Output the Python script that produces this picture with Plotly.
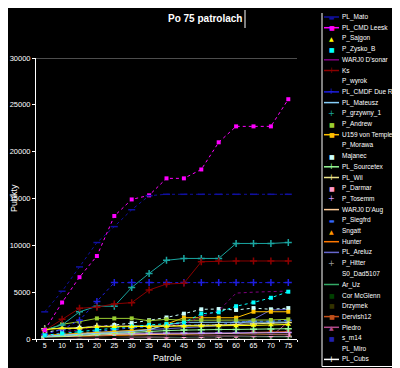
import plotly.graph_objects as go

W, H = 400, 368
OFF = 8  # page body margin of the browser shifts the figure by this many pixels

# ---------------- data ----------------
categories = ["5", "10", "15", "20", "25", "30", "35", "40", "45", "50", "55", "60", "65", "70", "75"]
y_ticks = [0, 5000, 10000, 15000, 20000, 25000, 30000]
y_tick_labels = ["0", "5000", "10000", "15000", "20000", "25000", "30000"]

title_text = "Po 75 patrolach"
x_title = "Patrole"
y_title = "Punkty"

pl_mato = [2900, 5100, 7700, 10300, 12000, 13800, 15300, 15450, 15450, 15450, 15450, 15450, 15450, 15450, 15450]
pl_cmd_leesk = [950, 3900, 6600, 8860, 13130, 14900, 15340, 17150, 17150, 18100, 21000, 22700, 22700, 22700, 25600]
p_sajgon = [1000, 1140, 1140, 1310, 1310, 1320, 1320, 1330, 1350, 1380, 1400, 1400, 1450, 1500, 1550]
p_zysko_b = [400, 600, 800, 1000, 1150, 1350, 1500, 1600, 1750, 2700, 2850, 3500, 3900, 4400, 5050]
warj0_dsonar = [300, 700, 1000, 1390, 1350, 1350, 1350, 1350, 1600, 2380, 3020, 4900, 5000, 5050, 5120]
ks = [900, 2100, 3280, 3400, 3750, 3880, 5230, 5870, 5950, 8250, 8330, 8330, 8330, 8330, 8330]
p_wyrok = [100, 150, 200, 260, 300, 310, 350, 400, 410, 450, 460, 500, 510, 550, 560]
pl_cmdf_due_r = [500, 1000, 2000, 4000, 6020, 6020, 6020, 6020, 6020, 6020, 6020, 6020, 6020, 6020, 6020]
pl_mateusz = [300, 400, 500, 650, 700, 800, 1000, 1500, 1780, 1780, 1780, 1780, 1780, 1780, 1800]
p_grzywny_1 = [1000, 1500, 2900, 3500, 3500, 5500, 7000, 8400, 8600, 8600, 8600, 10200, 10200, 10200, 10300]
p_andrew = [900, 1570, 1850, 2200, 2200, 2200, 1950, 2100, 2000, 2000, 2000, 2000, 2000, 2030, 2100]
u159_von_temple = [400, 500, 600, 700, 800, 900, 1000, 1600, 2270, 2270, 2270, 2270, 2910, 2910, 2910]
p_morawa = [50, 90, 120, 150, 180, 200, 230, 250, 270, 300, 320, 340, 360, 380, 400]
majanec = [700, 1000, 1200, 1300, 1500, 1700, 2000, 2300, 2700, 3170, 3200, 3100, 3300, 3170, 3300]
pl_sourcetex = [200, 310, 420, 480, 610, 700, 790, 900, 950, 1000, 1010, 1020, 1050, 1060, 1100]
pl_wil = [1100, 1150, 1200, 1350, 1390, 1390, 1390, 1400, 1420, 1450, 1500, 1550, 1600, 1700, 1750]
p_darmar = [50, 80, 100, 150, 200, 200, 250, 250, 300, 300, 350, 350, 400, 400, 450]
p_tosemm = [300, 450, 550, 600, 600, 600, 620, 620, 620, 620, 650, 650, 650, 650, 700]
warj0_daug = [150, 250, 300, 400, 500, 500, 500, 550, 550, 550, 550, 600, 600, 600, 650]
p_siegfrd = [200, 400, 600, 800, 1000, 1200, 1300, 1400, 1500, 1500, 1500, 1800, 1900, 1900, 2000]
sngatt = [100, 150, 200, 300, 350, 400, 400, 450, 450, 450, 500, 500, 500, 500, 500]
hunter = [150, 200, 250, 300, 400, 450, 450, 480, 480, 500, 500, 500, 500, 500, 500]
pl_areluz = [200, 300, 500, 700, 800, 900, 1000, 1100, 1200, 1300, 1400, 1500, 2100, 3100, 3150]
p_hitter = [100, 100, 150, 150, 200, 200, 200, 250, 250, 250, 250, 300, 300, 300, 300]
s0_dad5107 = [20, 40, 60, 80, 90, 100, 120, 130, 140, 150, 160, 170, 180, 190, 200]
ar_uz = [50, 100, 100, 120, 150, 150, 150, 150, 150, 150, 180, 180, 180, 180, 200]
cor_mcglenn = [50, 80, 100, 100, 120, 120, 150, 150, 150, 150, 150, 180, 180, 180, 200]
drzymek = [30, 50, 80, 80, 100, 100, 120, 120, 130, 130, 140, 140, 150, 150, 160]
dervish12 = [100, 200, 250, 300, 350, 400, 400, 420, 420, 430, 430, 450, 700, 750, 800]
piedro = [0, 0, 50, 50, 80, 100, 100, 100, 120, 120, 150, 150, 200, 250, 1850]
s_m14 = [100, 200, 300, 300, 400, 400, 500, 500, 500, 600, 600, 600, 700, 700, 700]
pl_miro = [10, 20, 30, 40, 50, 60, 70, 80, 90, 100, 110, 120, 130, 140, 150]
pl_cubs = [0, 20, 50, 50, 50, 80, 80, 100, 100, 100, 100, 120, 150, 200, 250]

# name, values, color, marker kind, chart line dash, legend shows line
series = [
    ("PL_Mato", pl_mato, "#1010A0", "dash", "dot", True),
    ("PL_CMD Leesk", pl_cmd_leesk, "#FF00FF", "sq", "dot", True),
    ("P_Sajgon", p_sajgon, "#FFFF00", "tri", "solid", False),
    ("P_Zysko_B", p_zysko_b, "#00FFFF", "sq", "dot", False),
    ("WARJ0 D'sonar", warj0_dsonar, "#800080", None, "dot", True),
    ("Ks", ks, "#8B0000", "cross", "solid", True),
    ("P_wyrok", p_wyrok, "#050505", None, "solid", False),
    ("PL_CMDF Due R", pl_cmdf_due_r, "#1E1EE0", "cross", "dot", True),
    ("PL_Mateusz", pl_mateusz, "#87CEFA", None, "solid", True),
    ("P_grzywny_1", p_grzywny_1, "#1AA5A0", "cross", "solid", False),
    ("P_Andrew", p_andrew, "#9ACD32", "sq", "solid", False),
    ("U159 von Temple", u159_von_temple, "#FFC000", "sq", "solid", True),
    ("P_Morawa", p_morawa, "#050505", None, "solid", False),
    ("Majanec", majanec, "#CCFFFF", "sq", "dot", False),
    ("PL_Sourcetex", pl_sourcetex, "#98FB98", "cross", "solid", True),
    ("PL_Wil", pl_wil, "#F0E68C", "cross", "solid", True),
    ("P_Darmar", p_darmar, "#FF99CC", "sq", "solid", False),
    ("P_Tosemm", p_tosemm, "#CC99FF", "cross", "solid", False),
    ("WARJ0 D'Aug", warj0_daug, "#FFCC99", None, "solid", True),
    ("P_Siegfrd", p_siegfrd, "#3366FF", "dash", "dot", False),
    ("Sngatt", sngatt, "#FF9900", "tri", "solid", False),
    ("Hunter", hunter, "#FF7700", None, "solid", True),
    ("PL_Areluz", pl_areluz, "#6666CC", None, "solid", True),
    ("P_Hitter", p_hitter, "#999999", "cross", "solid", False),
    ("S0_Dad5107", s0_dad5107, "#050505", None, "solid", False),
    ("Ar_Uz", ar_uz, "#33AA66", None, "solid", True),
    ("Cor McGlenn", cor_mcglenn, "#004000", "sq", "solid", False),
    ("Drzymek", drzymek, "#333300", "sq", "solid", False),
    ("Dervish12", dervish12, "#C0501A", "sq", "solid", True),
    ("Piedro", piedro, "#B04A8A", "tri", "solid", True),
    ("s_m14", s_m14, "#2020B0", "sq", "solid", False),
    ("PL_Miro", pl_miro, "#050505", None, "solid", False),
    ("PL_Cubs", pl_cubs, "#FFFFFF", "cross", "solid", True),
]

marker_styles = {
    "sq": dict(symbol="square", size=4),
    "tri": dict(symbol="triangle-up", size=5),
    "cross": dict(symbol="cross-thin", size=5),
    "dash": dict(symbol="line-ew", size=5),
}
legend_glyph = {"sq": "■", "tri": "▲", "cross": "+", "dash": "▬"}


def px(x):
    # screen pixel (as in the reference) -> paper fraction
    return (x - OFF) / W


def py(y):
    return 1 - (y - OFF) / H


fig = go.Figure()

# draw last legend entries first so the leaders sit on top
for name, vals, color, mk, dash, _ in reversed(series):
    kw = dict(x=categories, y=vals, name=name, showlegend=False, hoverinfo="skip",
              line=dict(color=color, width=1, dash=dash))
    if mk:
        st = marker_styles[mk]
        m = dict(symbol=st["symbol"], size=st["size"], color=color)
        if mk in ("cross", "dash"):
            m["line"] = dict(color=color, width=1.5)
        kw["mode"] = "lines+markers"
        kw["marker"] = m
    else:
        kw["mode"] = "lines"
    fig.add_trace(go.Scatter(**kw))

shapes = []
annotations = []

# top gray line at the 30000 level
shapes.append(dict(type="line", xref="x domain", yref="y", x0=0, x1=1,
                   y0=y_ticks[-1], y1=y_ticks[-1], line=dict(color="#9A9A9A", width=1)))

# title cursor bar
shapes.append(dict(type="line", xref="paper", yref="paper", x0=px(245), x1=px(245),
                   y0=py(28), y1=py(10), line=dict(color="white", width=1)))

# legend frame (left + bottom)
shapes.append(dict(type="line", xref="paper", yref="paper", x0=px(322), x1=px(420),
                   y0=py(366.5), y1=py(366.5), line=dict(color="white", width=1)))
shapes.append(dict(type="line", xref="paper", yref="paper", x0=px(322), x1=px(322),
                   y0=py(366.5), y1=py(13), line=dict(color="white", width=1)))

for i, (name, vals, color, mk, dash, leg_line) in enumerate(series):
    yy = 17 + 10.7 * i
    if leg_line:
        shapes.append(dict(type="line", xref="paper", yref="paper", x0=px(324), x1=px(339),
                           y0=py(yy), y1=py(yy), line=dict(color=color, width=1.5)))
    if mk:
        annotations.append(dict(xref="paper", yref="paper", x=px(331.5), y=py(yy),
                                text=legend_glyph[mk], showarrow=False,
                                xanchor="center", yanchor="middle", borderpad=0,
                                font=dict(family="DejaVu Sans", size=6 if mk != "cross" else 8,
                                          color=color)))
    annotations.append(dict(xref="paper", yref="paper", x=px(341), y=py(yy),
                            text=name, showarrow=False, xanchor="left", yanchor="middle",
                            borderpad=0,
                            font=dict(family="Liberation Sans", size=6.5, color="white")))

# title and axis titles
annotations.append(dict(xref="paper", yref="paper", x=px(205), y=py(19), text="<b>%s</b>" % title_text,
                        showarrow=False, xanchor="center", yanchor="middle",
                        font=dict(family="Liberation Sans", size=10, color="white")))
annotations.append(dict(xref="paper", yref="paper", x=px(167), y=py(358), text=x_title,
                        showarrow=False, xanchor="center", yanchor="middle", borderpad=0,
                        font=dict(family="Liberation Sans", size=9, color="white")))
annotations.append(dict(xref="paper", yref="paper", x=px(14), y=py(198), text=y_title,
                        showarrow=False, xanchor="center", yanchor="middle", textangle=-90,
                        borderpad=0,
                        font=dict(family="Liberation Sans", size=9, color="white")))

fig.update_layout(
    template="none",
    width=W, height=H,
    margin=dict(l=0, r=0, t=0, b=0),
    paper_bgcolor="black",
    plot_bgcolor="black",
    showlegend=False,
    shapes=shapes,
    annotations=annotations,
    xaxis=dict(
        type="category", domain=[px(36), px(297)], range=[-0.5, len(categories) - 0.5],
        showgrid=False, zeroline=False, showline=True, linecolor="white", linewidth=1,
        ticks="outside", ticklen=2, tickcolor="white", tickson="boundaries", tickangle=0,
        tickfont=dict(family="Liberation Sans", size=7, color="white"),
    ),
    yaxis=dict(
        domain=[py(339), py(58)], range=[0, 30000],
        tickvals=y_ticks, ticktext=y_tick_labels,
        showgrid=False, zeroline=False, showline=True, linecolor="white", linewidth=1,
        ticks="outside", ticklen=3, tickcolor="white",
        tickfont=dict(family="Liberation Sans", size=7.5, color="white"),
    ),
)

fig.write_html("out.html")
